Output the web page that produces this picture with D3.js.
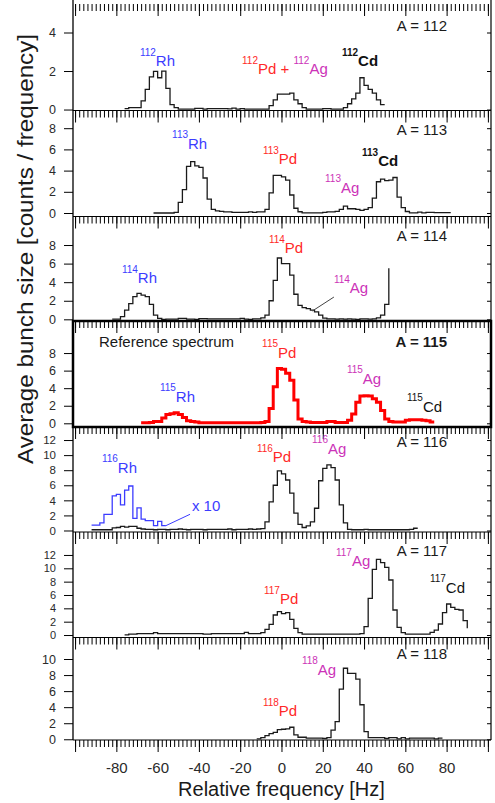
<!DOCTYPE html>
<html>
<head>
<meta charset="utf-8">
<script src="https://cdn.jsdelivr.net/npm/d3@7"></script>
<style>
  body { margin: 0; background: #fff; }
  svg { display: block; font-family: "Liberation Sans", Arial, sans-serif; }
  text { white-space: pre; }
</style>
</head>
<body>
<div id="chart"></div>
<script>
const width = 495;
const height = 803;
const FONT = '"Liberation Sans", Arial, sans-serif';

// ---- data (2 Hz bins, first bin edge given in binStarts) ----
const masses = [112, 113, 114, 115, 116, 117, 118];
const binStarts = [-76, -62, -82, -68, -92, -76, -12];

const counts112 = [0.05, 0.1, 0.1, 0.1, 0.45, 1.05, 1.7, 1.98, 1.65, 2.0, 1.1, 0.25, 0.1, 0.02, 0.02, 0.02, 0.02,
  0.06, 0.06, 0.02, 0.05, 0.05, 0.05, 0.05, 0.05, 0.03, 0.07, 0.02, 0.05, 0.02, 0.02, 0.02, 0.02, 0.02, 0.02,
  0.2, 0.5, 0.8, 0.8, 0.8, 0.85, 0.5, 0.3, 0.1, 0.02, 0.02, 0.02, 0.02, 0.05, 0.05, 0.02, 0.02, 0.02,
  0.1, 0.3, 0.55, 0.85, 1.65, 1.25, 1.05, 0.85, 0.5, 0.25];
const counts113 = [0, 0, 0, 0, 0, 0.05, 1.0, 2.2, 4.4, 4.85, 4.45, 4.3, 3.3, 1.3, 0.35, 0.2, 0.15, 0.1, 0.1,
  0.05, 0.05, 0.05, 0.05, 0.1, 0.05, 0.1, 0.1, 0.35, 1.9, 3.55, 3.55, 3.4, 3.1, 1.7, 0.45, 0.12, 0.02, 0.02,
  0.02, 0.02, 0.02, 0.05, 0.1, 0.1, 0.15, 0.35, 0.65, 0.4, 0.4, 0.35, 0.25, 0.35, 0.5, 1.4, 2.95, 3.2, 3.05,
  3.1, 3.35, 1.5, 0.5, 0.14, 0.02, 0.02, 0.08, 0.02, 0.06, 0.06, 0.03, 0.03, 0.03, 0.03];
const counts114 = [0.02, 0.02, 0.3, 1.0, 1.7, 2.45, 2.8, 2.6, 2.45, 1.6, 0.45, 0.1, 0, 0.02, 0.02, 0.02, 0.1,
  0.1, 0.02, 0.02, 0, 0.08, 0.08, 0.05, 0.05, 0.05, 0.05, 0.05, 0.05, 0.05, 0.05, 0.1, 0.02, 0, 0.05, 0.05,
  0.15, 0.45, 2.0, 4.2, 6.6, 6.0, 6.0, 4.75, 2.7, 1.5, 1.25, 1.15, 1.0, 0.8, 0.45, 0.12, 0.05, 0.05, 0.02,
  0.05, 0.02, 0.05, 0.02, 0, 0.05, 0.05, 0.02, 0.05, 0.15, 0.45, 1.6];
const endRise114 = 5.5;
const counts115 = [0.05, 0.05, 0.1, 0.2, 0.2, 0.6, 1.0, 1.1, 1.2, 1.0, 0.65, 0.3, 0.2, 0.15, 0.05, 0.05, 0.05,
  0.05, 0.05, 0.05, 0.05, 0.05, 0.05, 0.05, 0.05, 0.05, 0.05, 0.05, 0.05, 0.1, 0.2, 1.7, 4.15, 6.25, 6.15,
  5.7, 4.9, 2.65, 0.5, 0.2, 0.15, 0.1, 0.1, 0.1, 0.1, 0.2, 0.2, 0.1, 0.1, 0.1, 0.35, 1.05, 2.4, 3.1, 3.15,
  3.1, 2.8, 2.4, 1.45, 0.5, 0.2, 0.15, 0.15, 0.15, 0.35, 0.4, 0.4, 0.4, 0.35, 0.3, 0.15];
const counts116 = [0.1, 0.1, 0.1, 0.1, 0.1, 0.35, 0.4, 0.55, 0.45, 0.55, 0.55, 0.3, 0.2, 0.15, 0.15, 0.1,
  0.15, 0.15, 0.1, 0.15, 0.15, 0.2, 0.15, 0.1, 0.15, 0.15, 0.15, 0.1, 0.15, 0.15, 0.15, 0.15, 0.15, 0.2,
  0.1, 0.15, 0.15, 0.15, 0.2, 0.15, 0.2, 0.25, 1.15, 3.8, 6.0, 7.9, 7.5, 6.7, 4.95, 2.3, 0.8, 0.4, 0.6,
  1.15, 2.95, 6.6, 8.25, 8.7, 8.35, 6.7, 3.4, 1.0, 0.15, 0.1, 0.1, 0.1, 0.15, 0.1, 0.1, 0.1, 0.1, 0.1, 0.1,
  0.1, 0.1, 0.1, 0.1, 0.15, 0.3];
const rh116x10Start = -92;
const rh116x10 = [0.7, 0.7, 1.0, 2.15, 2.15, 4.6, 4.8, 3.4, 5.35, 5.9, 1.6, 3.0, 1.5, 1.3, 1.3, 0.65, 1.2, 0.65];
const counts117 = [0.02, 0.15, 0.15, 0.2, 0.2, 0.2, 0.2, 0.35, 0.2, 0.2, 0.2, 0.2, 0.2, 0.2, 0.2, 0.2, 0.2,
  0.2, 0.2, 0.15, 0.15, 0.2, 0.2, 0.2, 0.2, 0.2, 0.2, 0.2, 0.2, 0.4, 0.2, 0.2, 0.2, 0.35, 0.85, 1.6, 3.0,
  3.5, 3.2, 3.35, 2.35, 1.0, 0.35, 0.15, 0.15, 0.15, 0.15, 0.15, 0.15, 0.15, 0.15, 0.15, 0.15, 0.15, 0.15,
  0.15, 0.15, 0.2, 1.25, 5.5, 9.85, 11.35, 10.85, 10.15, 8.25, 3.75, 1.15, 0.35, 0.15, 0.15, 0.15, 0.15,
  0.15, 0.15, 0.4, 0.75, 1.65, 3.35, 4.65, 4.15, 3.85, 3.75, 2.15];
const endDrop117 = 1.0;
const counts118 = [0.05, 0.2, 0.45, 0.7, 0.87, 1.2, 1.25, 1.3, 1.5, 0.55, 0.25, 0.25, 0.15, 0.15, 0.15, 0.15,
  0.1, 0.2, 1.15, 2.2, 6.25, 8.85, 8.2, 8.2, 7.5, 4.3, 0.95, 0.2, 0.2, 0.2, 0.2, 0.1, 0.2, 0.2, 0.05, 0.2,
  0.05, 0.15, 0.15, 0.15, 0.15, 0.15, 0.15, 0.05, 0.15];

const counts = [counts112, counts113, counts114, counts115, counts116, counts117, counts118];
const endValues = [null, null, endRise114, null, null, endDrop117, null];

const yTicks = [[0, 2, 4], [0, 2, 4, 6, 8], [0, 2, 4, 6, 8], [0, 2, 4, 6, 8],
  [0, 2, 4, 6, 8, 10, 12], [0, 2, 4, 6, 8, 10, 12], [0, 2, 4, 6, 8, 10]];
const xTickLabels = [-80, -60, -40, -20, 0, 20, 40, 60, 80];

// ---- layout ----
const panelTop = [-6, 110.5, 216.5, 321, 427, 532, 637.5];
const panelBottom = [110.5, 216.5, 321, 427, 532, 637.5, 740];
const yDomains = [[-0.05, 6.0], [-0.33, 9.67], [-0.18, 11.07], [-0.42, 11.65], [-0.2, 13.73], [-0.37, 15.44], [-0.09, 12.68]];
const tickFont = [12.5, 12.5, 12.5, 12.5, 11.5, 11, 12.5];
const refPanel = 3;

const RH = "#3c3cff", PD = "#ff2828", AG = "#cc33b8", CD = "#111111";

const massLabelV = [4.08, 7.36, 8.43, 8.69, 11.07, 11.84, 10.0];
const isoLabels = [
  { panel: 0, f: -68.6, v: 2.26, parts: [["112", "Rh", RH]] },
  { panel: 0, f: -19.1, v: 1.84, parts: [["112", "Pd + ", PD], ["112", "Ag", AG]] },
  { panel: 0, f: 29.3, v: 2.26, parts: [["112", "Cd", CD]], bold: true },
  { panel: 1, f: -53, v: 6.04, parts: [["113", "Rh", RH]] },
  { panel: 1, f: -9, v: 4.62, parts: [["113", "Pd", PD]] },
  { panel: 1, f: 21.1, v: 1.89, parts: [["113", "Ag", AG]] },
  { panel: 1, f: 39, v: 4.43, parts: [["113", "Cd", CD]], bold: true },
  { panel: 2, f: -77.3, v: 3.9, parts: [["114", "Rh", RH]] },
  { panel: 2, f: -6.1, v: 7.14, parts: [["114", "Pd", PD]] },
  { panel: 2, f: 25.4, v: 2.83, parts: [["114", "Ag", AG]] },
  { panel: 3, f: -9.4, v: 7.44, parts: [["115", "Pd", PD]] },
  { panel: 3, f: -58.9, v: 2.43, parts: [["115", "Rh", RH]] },
  { panel: 3, f: 31.7, v: 4.48, parts: [["115", "Ag", AG]] },
  { panel: 3, f: 60.8, v: 1.29, parts: [["115", "Cd", CD]] },
  { panel: 4, f: -11.9, v: 9.08, parts: [["116", "Pd", PD]] },
  { panel: 4, f: 14.8, v: 10.15, parts: [["116", "Ag", AG]] },
  { panel: 4, f: -87, v: 7.63, parts: [["116", "Rh", RH]] },
  { panel: 5, f: 26.4, v: 10.34, parts: [["117", "Ag", AG]] },
  { panel: 5, f: -8.5, v: 4.65, parts: [["117", "Pd", PD]] },
  { panel: 5, f: 71.9, v: 6.3, parts: [["117", "Cd", CD]] },
  { panel: 6, f: 9.9, v: 8.01, parts: [["118", "Ag", AG]] },
  { panel: 6, f: -9, v: 2.9, parts: [["118", "Pd", PD]] }
];

const svg = d3.select("#chart")
  .append("svg")
  .attr("width", width)
  .attr("height", height);

const x = d3.scaleLinear().domain([-101, 101.5]).range([73, 491]);
const yScales = masses.map(function (m, i) {
  return d3.scaleLinear().domain(yDomains[i]).range([panelBottom[i], panelTop[i]]);
});

function stepPoints(start, vals, endVal) {
  const pts = vals.map((v, i) => [start + 2 * i, v]);
  const last = start + 2 * vals.length;
  pts.push([last, vals[vals.length - 1]]);
  if (endVal != null) pts.push([last, endVal]);
  return pts;
}

// x ticks hang down from a horizontal line
function xTicks(yPos) {
  svg.append("g").attr("transform", "translate(0," + yPos + ")")
    .call(d3.axisBottom(x).tickValues(d3.range(-100, 101, 2)).tickSize(7).tickSizeOuter(0).tickFormat(""))
    .call(g => g.select(".domain").remove());
  svg.append("g").attr("transform", "translate(0," + yPos + ")")
    .call(d3.axisBottom(x).tickValues(d3.range(-100, 101, 20)).tickSize(12).tickSizeOuter(0).tickFormat(""))
    .call(g => g.select(".domain").remove());
}

xTicks(4);

masses.forEach(function (m, i) {
  const y = yScales[i];

  xTicks(panelBottom[i]);

  svg.append("line")
    .attr("x1", x.range()[0]).attr("x2", x.range()[1])
    .attr("y1", panelBottom[i]).attr("y2", panelBottom[i])
    .attr("stroke", "#000").attr("stroke-width", 1.2);

  // left axis with labels
  svg.append("g").attr("transform", "translate(" + x.range()[0] + ",0)")
    .call(d3.axisLeft(y).tickValues(yTicks[i]).tickSize(9).tickPadding(8).tickSizeOuter(0).tickFormat(d => String(d)))
    .call(g => g.select(".domain").remove())
    .attr("font-family", FONT).attr("font-size", tickFont[i])
    .call(g => g.selectAll("text").attr("fill", "#2a2a2a"));

  // right side, inward ticks
  svg.append("g").attr("transform", "translate(" + x.range()[1] + ",0)")
    .call(d3.axisLeft(y).tickValues(yTicks[i]).tickSize(4).tickSizeOuter(0).tickFormat(""))
    .call(g => g.select(".domain").remove());

  const line = d3.line()
    .x(d => x(d[0]))
    .y(d => y(d[1]))
    .curve(d3.curveStepAfter);

  svg.append("path")
    .datum(stepPoints(binStarts[i], counts[i], endValues[i]))
    .attr("d", line)
    .attr("fill", "none")
    .attr("stroke", i === refPanel ? "#ff0000" : "#1a1a1a")
    .attr("stroke-width", i === refPanel ? 3 : 1.3)
    .attr("stroke-linejoin", "miter");

  svg.append("text")
    .attr("x", x(80.2))
    .attr("y", y(massLabelV[i]))
    .attr("text-anchor", "end")
    .attr("font-size", 15)
    .attr("font-weight", i === refPanel ? "bold" : null)
    .attr("fill", "#1a1a1a")
    .text("A = " + m);
});

// blue x10 trace for 116Rh
const y116 = yScales[4];
svg.append("path")
  .datum(stepPoints(rh116x10Start, rh116x10, null))
  .attr("d", d3.line().x(d => x(d[0])).y(d => y116(d[1])).curve(d3.curveStepAfter))
  .attr("fill", "none")
  .attr("stroke", RH)
  .attr("stroke-width", 1.3);
svg.append("line")
  .attr("x1", x(-56)).attr("y1", y116(0.64))
  .attr("x2", x(-44.3)).attr("y2", y116(2.15))
  .attr("stroke", RH).attr("stroke-width", 1);
svg.append("text")
  .attr("x", x(-43.4)).attr("y", y116(2.59))
  .attr("font-size", 15).attr("fill", RH)
  .text("x 10");

// pointer to 114Ag
const y114 = yScales[2];
svg.append("line")
  .attr("x1", x(15)).attr("y1", y114(0.9))
  .attr("x2", x(25.4)).attr("y2", y114(2.4))
  .attr("stroke", "#444").attr("stroke-width", 1);

// reference panel frame and caption
svg.append("rect")
  .attr("x", x.range()[0]).attr("y", panelTop[refPanel])
  .attr("width", x.range()[1] - x.range()[0])
  .attr("height", panelBottom[refPanel] - panelTop[refPanel])
  .attr("fill", "none").attr("stroke", "#000").attr("stroke-width", 2.5);
svg.append("text")
  .attr("x", x(-88.4)).attr("y", yScales[refPanel](8.69))
  .attr("font-size", 15).attr("fill", "#1a1a1a")
  .text("Reference spectrum");

// isotope labels with superscript mass numbers
isoLabels.forEach(function (d) {
  const y = yScales[d.panel];
  const t = svg.append("text")
    .attr("x", x(d.f))
    .attr("y", y(d.v))
    .attr("font-weight", d.bold ? "bold" : null);
  d.parts.forEach(function (p) {
    t.append("tspan").attr("font-size", 10).attr("dy", -10.5).attr("fill", p[2]).text(p[0]);
    t.append("tspan").attr("font-size", 15).attr("dy", 10.5).attr("fill", p[2]).text(p[1]);
  });
});

// outer vertical lines
svg.append("line")
  .attr("x1", x.range()[0]).attr("x2", x.range()[0])
  .attr("y1", 0).attr("y2", panelBottom[6])
  .attr("stroke", "#000").attr("stroke-width", 1.3);
svg.append("line")
  .attr("x1", x.range()[1]).attr("x2", x.range()[1])
  .attr("y1", 0).attr("y2", panelBottom[6])
  .attr("stroke", "#000").attr("stroke-width", 1.2);

// bottom tick labels
svg.append("g").attr("transform", "translate(0," + panelBottom[6] + ")")
  .call(d3.axisBottom(x).tickValues(xTickLabels).tickSize(0).tickPadding(22).tickFormat(d => String(d)))
  .call(g => g.select(".domain").remove())
  .attr("font-family", FONT).attr("font-size", 15)
  .call(g => g.selectAll("text").attr("fill", "#2a2a2a"));

// axis titles
svg.append("text")
  .attr("x", x(0))
  .attr("y", 796)
  .attr("text-anchor", "middle")
  .attr("font-size", 20)
  .attr("fill", "#1a1a1a")
  .text("Relative frequency [Hz]");

svg.append("text")
  .attr("transform", "translate(25,249) rotate(-90)")
  .attr("text-anchor", "middle")
  .attr("dominant-baseline", "central")
  .attr("font-size", 22)
  .attr("textLength", 430)
  .attr("lengthAdjust", "spacingAndGlyphs")
  .attr("fill", "#1a1a1a")
  .text("Average bunch size [counts / frequency]");
</script>
</body>
</html>
